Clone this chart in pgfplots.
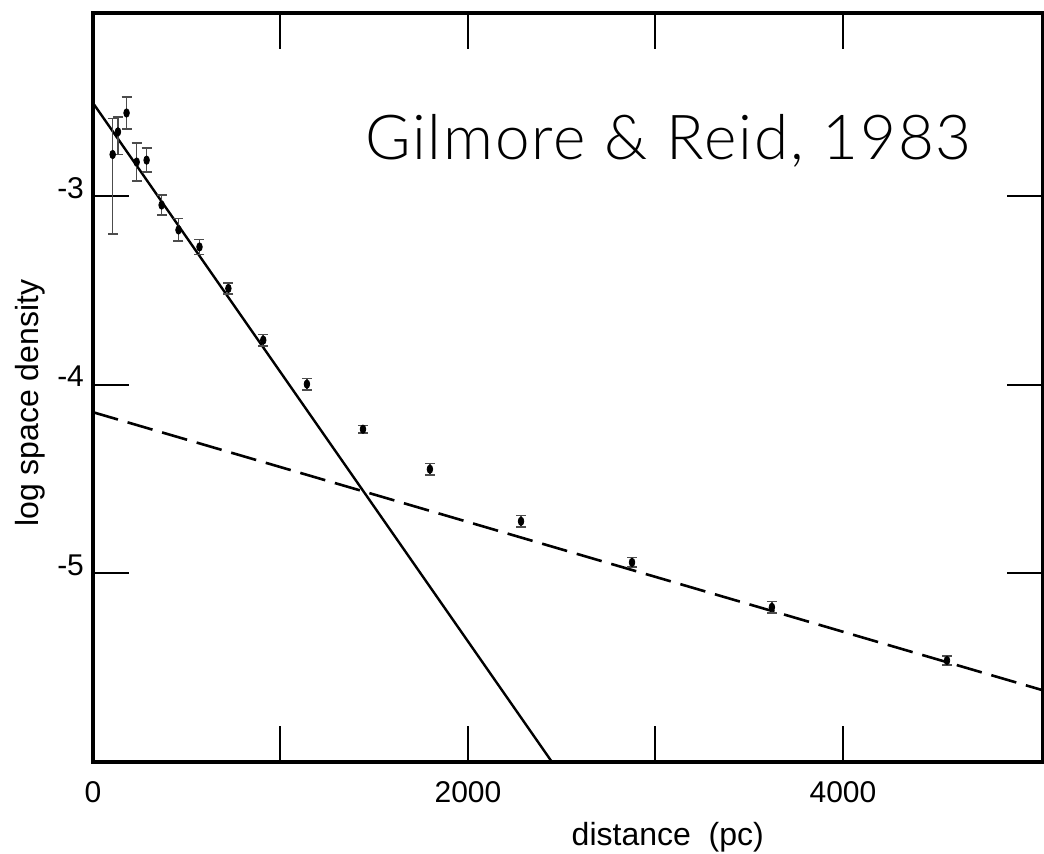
\documentclass[border=0pt]{standalone}
\usepackage{pgfplots}
\pgfplotsset{compat=1.18}
\usepackage{fontspec}
\setmainfont{Liberation Sans}
\newfontfamily\titlefont{Lato Light}[LetterSpace=3]
\begin{document}
\begin{tikzpicture}
\begin{axis}[
  scale only axis,
  width=475pt, height=374.5pt,
  xmin=0, xmax=5067, ymin=-6.0, ymax=-2.03,
  axis line style={line width=1.6pt},
  tick style={line width=1.0pt, black},
  tick align=inside,
  major tick length=18pt,
  xtick={0,1000,2000,3000,4000},
  xticklabels={0,,2000,,4000},
  ytick={-5,-4,-3},
  yticklabels={{-5},{-4},{-3}},
  xtick pos=both, ytick pos=both,
  ticklabel style={font=\fontsize{15}{18}\selectfont},
  xticklabel style={yshift=-6pt},
  yticklabel style={xshift=-1pt, yshift=4pt},
  xlabel={distance\ \ (pc)},
  ylabel={log space density},
  label style={font=\fontsize{16}{19}\selectfont},
  xlabel style={at={(axis description cs:0.605,-0.100)}, anchor=center},
  ylabel style={at={(axis description cs:-0.0663,0.479)}, anchor=center},
  scaled x ticks=false,
]
% fitted lines
\addplot[black, line width=1.2pt, no marks] coordinates {(0,-2.507) (2448,-6.0)};
\addplot[black, line width=1.3pt, no marks, dash pattern=on 13pt off 5pt] coordinates {(0,-4.146) (5067,-5.62)};
% data with error bars
\addplot[only marks, black, mark=*, mark size=1.4pt, mark options={yscale=1.5},
  error bars/.cd, y dir=both, y explicit,
  error bar style={line width=0.8pt, black!70},
  error mark options={rotate=90, mark size=2.5pt, line width=0.8pt, black!70}]
coordinates {
  (105,-2.78) += (0,0.19) -= (0,0.42)
  (133,-2.66) += (0,0.08) -= (0,0.12)
  (179,-2.56) += (0,0.085) -= (0,0.085)
  (233,-2.82) += (0,0.10) -= (0,0.10)
  (286,-2.81) += (0,0.064) -= (0,0.064)
  (366,-3.048) += (0,0.053) -= (0,0.053)
  (456,-3.18) += (0,0.06) -= (0,0.06)
  (568,-3.27) += (0,0.04) -= (0,0.04)
  (722,-3.49) += (0,0.03) -= (0,0.03)
  (908,-3.764) += (0,0.03) -= (0,0.03)
  (1141,-3.997) += (0,0.03) -= (0,0.03)
  (1440,-4.236) += (0,0.02) -= (0,0.02)
  (1797,-4.448) += (0,0.03) -= (0,0.03)
  (2283,-4.724) += (0,0.03) -= (0,0.03)
  (2875,-4.942) += (0,0.025) -= (0,0.025)
  (3621,-5.18) += (0,0.03) -= (0,0.03)
  (4555,-5.462) += (0,0.025) -= (0,0.025)
};
\node[anchor=base west, inner sep=0pt, font=\titlefont\fontsize{31}{37}\selectfont]
  at (rel axis cs:0.286,0.804) {Gilmore \& Reid, 1983};
\end{axis}
\pgfresetboundingbox
\path[use as bounding box] (-46.5pt,-45.5pt) rectangle (475.5pt,381pt);
\end{tikzpicture}
\end{document}
